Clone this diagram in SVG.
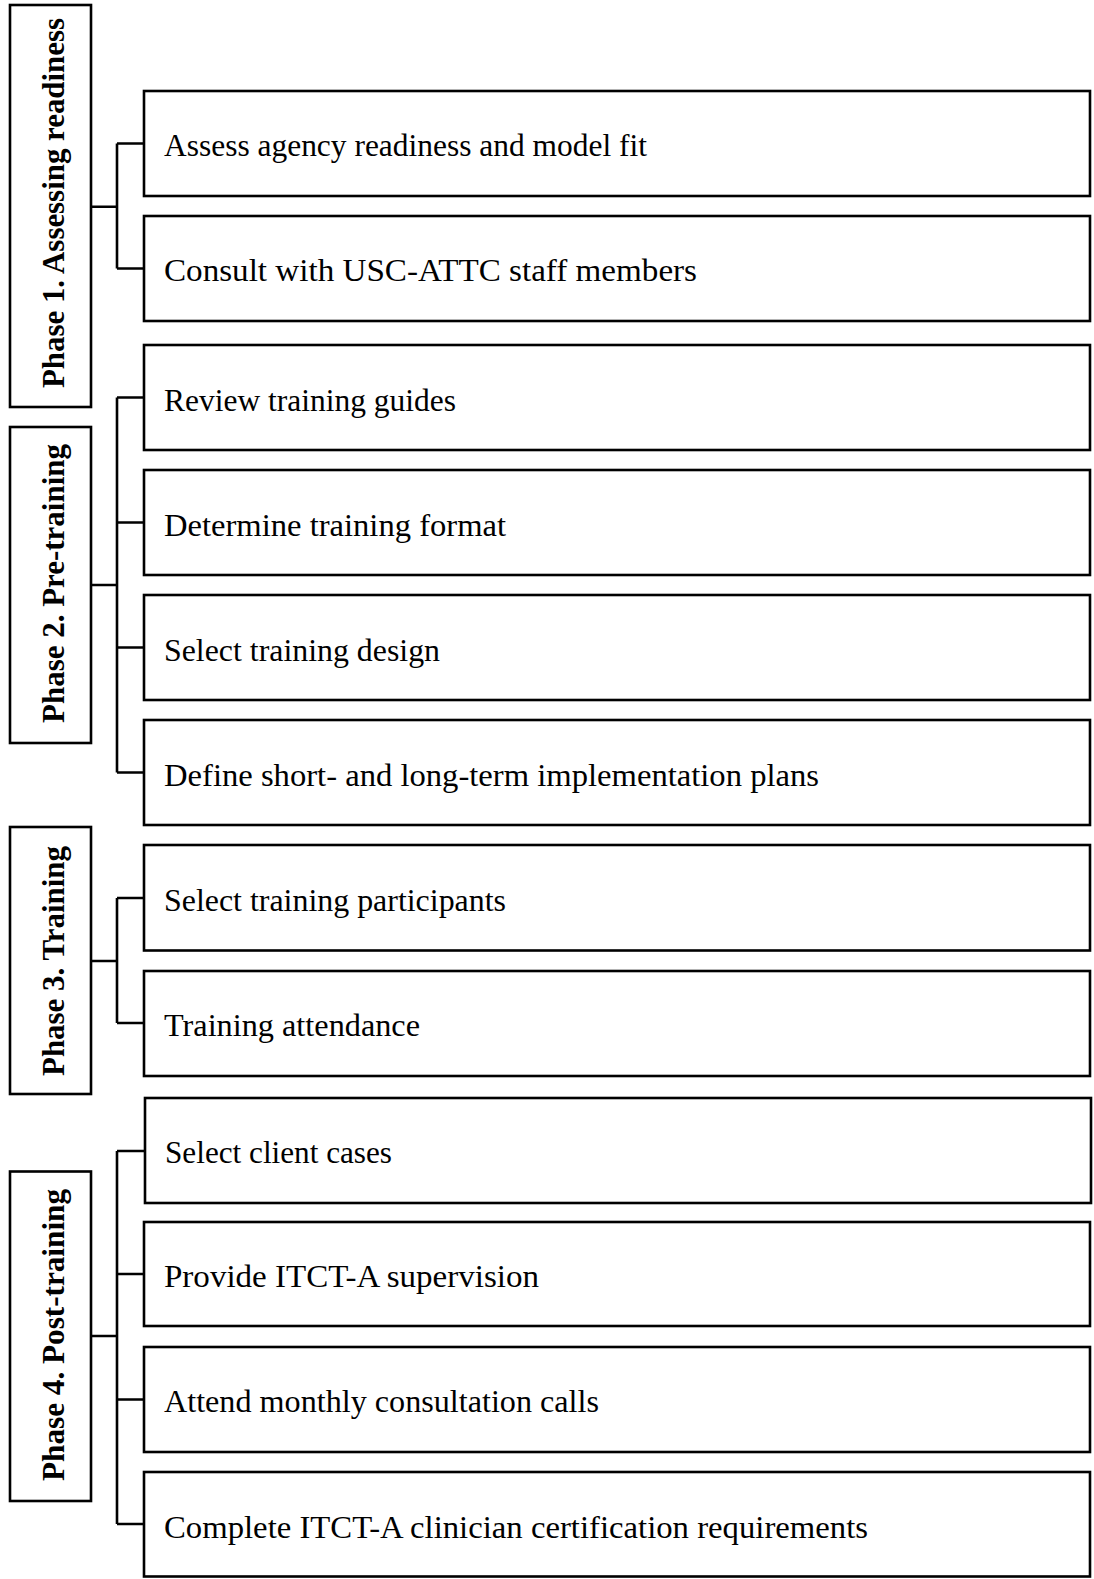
<svg xmlns="http://www.w3.org/2000/svg" width="1094" height="1579" viewBox="0 0 1094 1579">
<style>
.box{fill:#fff;stroke:#000;stroke-width:2.6}
.item{font-family:"Liberation Serif","Times New Roman",serif;font-size:32px;fill:#000}
.phase{font-family:"Liberation Serif","Times New Roman",serif;font-size:31px;font-weight:bold;fill:#000;text-anchor:middle}
.conn{fill:none;stroke:#000;stroke-width:2.6}
</style>
<rect width="1094" height="1579" fill="#fff"/>
<g id="connectors">
<path class="conn" d="M91 206.7H117M117 143.5V268.5M117 143.5H144M117 268.5H144"/>
<path class="conn" d="M91 585H117M117 397.5V772.5M117 397.5H144M117 522.5H144M117 647.5H144M117 772.5H144"/>
<path class="conn" d="M91 961H117M117 898V1023M117 898H144M117 1023H144"/>
<path class="conn" d="M91 1336H117M117 1151V1524M117 1151H145M117 1274H144M117 1399.5H144M117 1524H144"/>
</g>
<g id="phase1"><rect class="box" x="10" y="5" width="81" height="402"/><text class="phase" transform="translate(64 203) rotate(-90)" textLength="370" lengthAdjust="spacingAndGlyphs">Phase 1. Assessing readiness</text></g>
<g id="phase2"><rect class="box" x="10" y="427" width="81" height="316"/><text class="phase" transform="translate(64 583.5) rotate(-90)" textLength="279" lengthAdjust="spacingAndGlyphs">Phase 2. Pre-training</text></g>
<g id="phase3"><rect class="box" x="10" y="827" width="81" height="267"/><text class="phase" transform="translate(64 961) rotate(-90)" textLength="230" lengthAdjust="spacingAndGlyphs">Phase 3. Training</text></g>
<g id="phase4"><rect class="box" x="10" y="1171.5" width="81" height="329.5"/><text class="phase" transform="translate(64 1335) rotate(-90)" textLength="292" lengthAdjust="spacingAndGlyphs">Phase 4. Post-training</text></g>
<g id="step1"><rect class="box" x="144" y="91" width="946" height="105"/><text class="item" x="164" y="156" textLength="483" lengthAdjust="spacingAndGlyphs">Assess agency readiness and model fit</text></g>
<g id="step2"><rect class="box" x="144" y="216" width="946" height="105"/><text class="item" x="164" y="281" textLength="533" lengthAdjust="spacingAndGlyphs">Consult with USC-ATTC staff members</text></g>
<g id="step3"><rect class="box" x="144" y="345" width="946" height="105"/><text class="item" x="164" y="410.5" textLength="292" lengthAdjust="spacingAndGlyphs">Review training guides</text></g>
<g id="step4"><rect class="box" x="144" y="470" width="946" height="105"/><text class="item" x="164" y="535.5" textLength="342" lengthAdjust="spacingAndGlyphs">Determine training format</text></g>
<g id="step5"><rect class="box" x="144" y="595" width="946" height="105"/><text class="item" x="164" y="660.5" textLength="276" lengthAdjust="spacingAndGlyphs">Select training design</text></g>
<g id="step6"><rect class="box" x="144" y="720" width="946" height="105"/><text class="item" x="164" y="785.5" textLength="655" lengthAdjust="spacingAndGlyphs">Define short- and long-term implementation plans</text></g>
<g id="step7"><rect class="box" x="144" y="845" width="946" height="105.5"/><text class="item" x="164" y="910.5" textLength="342" lengthAdjust="spacingAndGlyphs">Select training participants</text></g>
<g id="step8"><rect class="box" x="144" y="971" width="946" height="105"/><text class="item" x="164" y="1036" textLength="256" lengthAdjust="spacingAndGlyphs">Training attendance</text></g>
<g id="step9"><rect class="box" x="145" y="1098" width="946" height="105"/><text class="item" x="165" y="1163" textLength="227" lengthAdjust="spacingAndGlyphs">Select client cases</text></g>
<g id="step10"><rect class="box" x="144" y="1222" width="946" height="104"/><text class="item" x="164" y="1287" textLength="375" lengthAdjust="spacingAndGlyphs">Provide ITCT-A supervision</text></g>
<g id="step11"><rect class="box" x="144" y="1347" width="946" height="105"/><text class="item" x="164" y="1412" textLength="435" lengthAdjust="spacingAndGlyphs">Attend monthly consultation calls</text></g>
<g id="step12"><rect class="box" x="144" y="1472" width="946" height="104.5"/><text class="item" x="164" y="1537.5" textLength="704" lengthAdjust="spacingAndGlyphs">Complete ITCT-A clinician certification requirements</text></g>
</svg>
